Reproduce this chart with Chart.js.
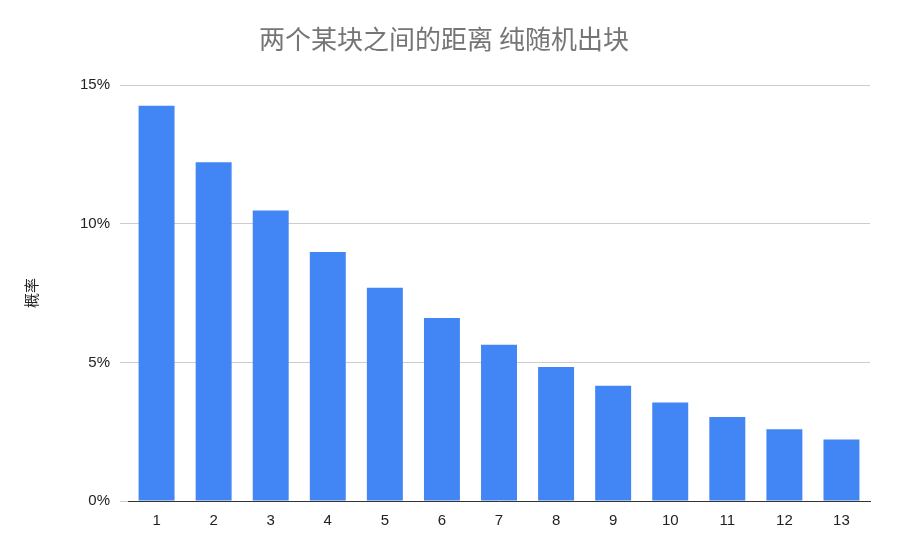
<!DOCTYPE html>
<html><head><meta charset="utf-8">
<script src="https://cdn.jsdelivr.net/npm/chart.js@4"></script>
<style>html,body{margin:0;background:#fff}#w{width:898px;height:557px}</style>
</head><body><div id="w"><canvas id="c"></canvas></div>
<script>
const categories = ["1","2","3","4","5","6","7","8","9","10","11","12","13"];
const probability = [14.26, 12.22, 10.48, 8.98, 7.69, 6.60, 5.64, 4.83, 4.16, 3.55, 3.03, 2.59, 2.22];
const chartTitle = "两个某块之间的距离 纯随机出块";
const yTitle = "概率";
new Chart(document.getElementById('c'), {
  type: 'bar',
  data: { labels: categories, datasets: [{ data: probability, backgroundColor: '#4285f4', categoryPercentage: 1, barPercentage: 0.63 }] },
  options: {
    responsive: true, maintainAspectRatio: false, animation: false,
    layout: { padding: { left: 18, right: 28, top: 10, bottom: 24 } },
    plugins: {
      legend: { display: false },
      tooltip: { enabled: false },
      title: { display: true, text: chartTitle, color: '#757575', font: { size: 26, weight: 'normal', family: 'Noto Sans CJK SC' }, padding: { top: 14, bottom: 30 } }
    },
    scales: {
      x: { grid: { display: false }, border: { color: '#333' }, ticks: { color: '#222', font: { size: 15, family: 'Liberation Sans' } } },
      y: { min: 0, max: 15, border: { display: false }, grid: { color: '#ccc' },
        ticks: { stepSize: 5, color: '#222', font: { size: 15, family: 'Liberation Sans' }, padding: 10, callback: v => v + '%' },
        title: { display: true, text: yTitle, color: '#222', font: { size: 15, family: 'Noto Sans CJK SC' }, padding: { bottom: 30 } } }
    }
  }
});
</script></body></html>
